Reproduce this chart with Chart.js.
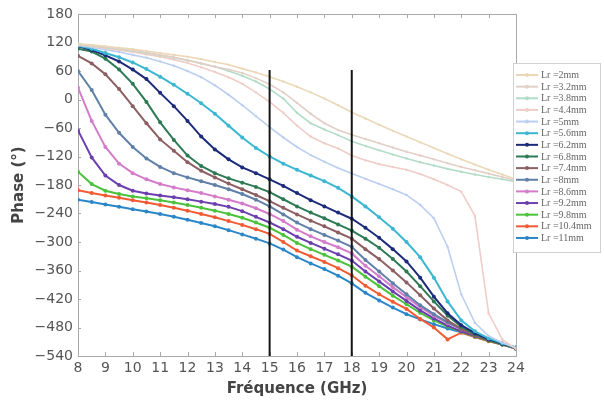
<!DOCTYPE html>
<html lang="fr">
<head>
<meta charset="UTF-8">
<title>Phase</title>
<script src="https://cdn.jsdelivr.net/npm/chart.js@4.4.1/dist/chart.umd.min.js"></script>
<style>
  html, body { margin: 0; padding: 0; background: #fff; }
</style>
</head>
<body>
<canvas id="phase" width="604" height="405"></canvas>
<script>
// frequences (GHz), un point tous les 0.5 GHz
const freq = [8, 8.5, 9, 9.5, 10, 10.5, 11, 11.5, 12, 12.5, 13, 13.5, 14, 14.5, 15, 15.5,
              16, 16.5, 17, 17.5, 18, 18.5, 19, 19.5, 20, 20.5, 21, 21.5, 22, 22.5, 23, 23.5, 24];

const labels = ['Lr =2mm', 'Lr =3.2mm', 'Lr =3.8mm', 'Lr =4.4mm', 'Lr =5mm', 'Lr =5.6mm',
                'Lr =6.2mm', 'Lr =6.8mm', 'Lr =7.4mm', 'Lr =8mm', 'Lr =8.6mm', 'Lr =9.2mm',
                'Lr =9.8mm', 'Lr =10.4mm', 'Lr =11mm'];

const lr2  = [117, 115, 112, 109, 106, 102, 98, 94, 90, 85, 79, 73, 65, 57, 48, 38, 27, 15, 2, -12,
              -27, -40, -53, -66, -78, -90, -102, -114, -126, -137, -148, -158, -168];
const lr32 = [116, 114, 111, 107, 103, 99, 94, 89, 83, 76, 69, 63, 56, 45, 32, 15, -7, -30, -50, -64,
              -74, -83, -92, -101, -110, -118, -126, -134, -142, -149, -156, -163, -170];
const lr38 = [116, 113, 110, 106, 102, 98, 93, 88, 82, 76, 69, 60, 50, 38, 22, 2, -28, -50, -63, -75,
              -88, -98, -107, -116, -124, -132, -139, -146, -152, -158, -163, -168, -173];
const lr44 = [115, 112, 108, 104, 100, 95, 90, 84, 77, 68, 58, 47, 33, 15, -5, -28, -55, -78, -92, -103,
              -118, -128, -136, -142, -148, -157, -168, -180, -194, -245, -450, -505, -525];
const lr5  = [114, 110, 105, 100, 94, 88, 80, 71, 60, 47, 30, 10, -12, -35, -58, -80, -100, -117, -131, -144,
              -156, -167, -178, -189, -201, -222, -250, -310, -410, -470, -498, -512, -523];
const lr56 = [113, 107, 98, 89, 78, 64, 48, 31, 12, -8, -30, -55, -80, -102, -120, -135, -148, -160, -172, -186,
              -204, -225, -248, -272, -300, -332, -375, -425, -465, -488, -503, -513, -522];
const lr62 = [112, 104, 93, 80, 63, 43, 14, -14, -45, -78, -105, -126, -143, -155, -168, -182, -197, -212, -225, -238,
              -251, -270, -291, -315, -341, -375, -415, -450, -475, -492, -505, -514, -522];
const lr68 = [107, 101, 86, 63, 33, -5, -48, -85, -118, -140, -155, -166, -175, -184, -195, -210, -225, -238, -250, -263,
              -276, -293, -312, -336, -362, -393, -425, -455, -478, -494, -506, -515, -523];
const lr74 = [92, 76, 53, 22, -14, -50, -84, -108, -132, -150, -164, -177, -189, -201, -214, -228, -242, -255, -267, -280,
              -293, -315, -336, -360, -385, -412, -440, -465, -483, -497, -507, -516, -524];
const lr8  = [60, 20, -32, -70, -100, -124, -142, -155, -164, -172, -180, -189, -199, -211, -225, -242, -259, -273, -285, -297,
              -310, -338, -362, -387, -410, -433, -452, -469, -483, -494, -505, -514, -523];
const lr86 = [25, -45, -100, -135, -155, -168, -178, -185, -191, -197, -204, -211, -219, -229, -241, -256, -274, -288, -300, -311,
              -324, -350, -372, -395, -416, -437, -455, -471, -484, -495, -505, -514, -523];
const lr92 = [-65, -122, -160, -180, -192, -198, -202, -206, -210, -215, -220, -226, -235, -247, -259, -273, -289, -302, -314, -326,
              -339, -362, -383, -404, -424, -444, -461, -476, -488, -498, -507, -515, -523];
const lr98 = [-152, -178, -192, -199, -204, -208, -212, -217, -222, -228, -234, -241, -249, -259, -270, -285, -302, -315, -327, -339,
              -352, -373, -393, -413, -431, -449, -465, -478, -489, -499, -508, -516, -524];
const lr104 = [-191, -197, -202, -207, -212, -217, -222, -228, -234, -241, -248, -256, -264, -273, -283, -300, -318, -330, -342, -355,
               -370, -392, -410, -426, -441, -462, -480, -505, -491, -500, -509, -516, -524];
const lr11 = [-211, -216, -221, -226, -231, -236, -241, -247, -253, -260, -267, -275, -284, -293, -303, -316, -332, -345, -357, -371,
              -387, -407, -423, -438, -452, -463, -473, -482, -490, -499, -508, -516, -525];

const series = [lr2, lr32, lr38, lr44, lr5, lr56, lr62, lr68, lr74, lr8, lr86, lr92, lr98, lr104, lr11];
const colors = ['#ead8b8', '#e2cfc6', '#b3dcc8', '#f0cdc6', '#bccff0', '#3cb7d2',
                '#1c2a7a', '#2d7a55', '#8c5f62', '#6080a8', '#d47cca', '#6b3fae',
                '#4cc23c', '#f25a32', '#2a86c8'];

// lignes verticales noires a 15 et 18 GHz
const cursorFreqs = [15, 18];
const cursorTop = 62;

const yTicks = [180, 120, 60, 0, -60, -120, -180, -240, -300, -360, -420, -480, -540];

const datasets = series.map((vals, i) => ({
    label: labels[i],
    data: freq.map((f, k) => ({ x: f, y: vals[k] })),
    borderColor: colors[i],
    backgroundColor: colors[i],
    borderWidth: i < 5 ? 1.6 : 2,
    pointRadius: i < 5 ? 1.2 : 2,
    pointBorderWidth: 0,
    tension: 0
}));

cursorFreqs.forEach(f => {
    datasets.push({
        label: '',
        data: [{ x: f, y: cursorTop }, { x: f, y: -540 }],
        borderColor: '#151515',
        borderWidth: 2,
        pointRadius: 0,
        order: -1
    });
});

const cadre = {
    id: 'cadre',
    beforeDatasetsDraw(chart) {
        const { ctx, chartArea: a, scales } = chart;
        ctx.save();
        ctx.strokeStyle = '#a8a8a8';
        ctx.lineWidth = 1;
        ctx.strokeRect(a.left + 0.5, a.top + 0.5, a.right - a.left, a.bottom - a.top);
        ctx.beginPath();
        for (let f = 9; f < 24; f++) {
            const x = Math.round(scales.x.getPixelForValue(f)) + 0.5;
            ctx.moveTo(x, a.top); ctx.lineTo(x, a.top + 4);
            ctx.moveTo(x, a.bottom); ctx.lineTo(x, a.bottom - 4);
        }
        yTicks.forEach(v => {
            const y = Math.round(scales.y.getPixelForValue(v)) + 0.5;
            ctx.moveTo(a.left, y); ctx.lineTo(a.left + 3, y);
        });
        ctx.stroke();
        ctx.restore();
    },
    afterDraw(chart) {
        const ctx = chart.ctx;
        ctx.save();
        ctx.fillStyle = '#ffffff';
        ctx.strokeStyle = '#d0d0d0';
        ctx.fillRect(513, 63, 87, 189);
        ctx.strokeRect(513.5, 63.5, 87, 189);
        ctx.font = '10px "Liberation Serif"';
        ctx.textBaseline = 'middle';
        labels.forEach((lab, i) => {
            const y = 75 + i * 11.64;
            ctx.strokeStyle = colors[i];
            ctx.lineWidth = 2;
            ctx.beginPath();
            ctx.moveTo(516, y); ctx.lineTo(538, y);
            ctx.stroke();
            ctx.fillStyle = colors[i];
            ctx.beginPath();
            ctx.arc(527, y, 2, 0, Math.PI * 2);
            ctx.fill();
            ctx.fillStyle = '#666';
            ctx.fillText(lab, 541, y + 0.5);
        });
        ctx.restore();
    }
};

new Chart(document.getElementById('phase'), {
    type: 'line',
    data: { datasets: datasets },
    options: {
        responsive: false,
        animation: false,
        devicePixelRatio: 1,
        layout: { padding: { top: 14, right: 88, left: 0, bottom: 0 } },
        plugins: {
            legend: { display: false },
            tooltip: { enabled: false }
        },
        scales: {
            x: {
                type: 'linear',
                min: 8,
                max: 24,
                afterFit(scale) { scale.height = 49; },
                grid: { display: false, drawTicks: false },
                border: { display: false },
                ticks: {
                    stepSize: 1,
                    padding: 4,
                    color: '#555',
                    font: { family: 'DejaVu Sans', size: 14 }
                },
                title: {
                    display: true,
                    text: 'Fréquence (GHz)',
                    color: '#444',
                    padding: { top: 0, bottom: 7 },
                    font: { family: 'DejaVu Sans', size: 15, weight: 'bold' }
                }
            },
            y: {
                type: 'linear',
                min: -540,
                max: 180,
                afterFit(scale) { scale.width = 78; },
                afterBuildTicks(scale) { scale.ticks = yTicks.map(v => ({ value: v })); },
                grid: { display: false, drawTicks: false },
                border: { display: false },
                ticks: {
                    padding: 5,
                    color: '#555',
                    font: { family: 'DejaVu Sans', size: 14 },
                    callback: v => String(v).replace('-', '\u2212')
                },
                title: {
                    display: true,
                    text: 'Phase (°)',
                    color: '#444',
                    padding: { top: 10, bottom: 0 },
                    font: { family: 'DejaVu Sans', size: 15, weight: 'bold' }
                }
            }
        }
    },
    plugins: [cadre]
});
</script>
</body>
</html>
